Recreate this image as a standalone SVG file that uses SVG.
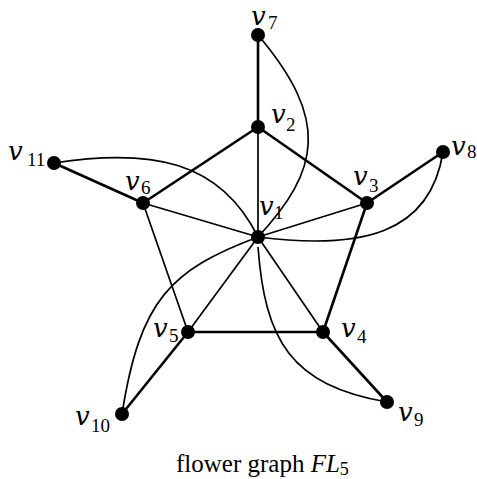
<svg xmlns="http://www.w3.org/2000/svg" width="477" height="479" viewBox="0 0 477 479">
<style>
.thick{stroke:#000;stroke-width:2.6;fill:none}
.thin{stroke:#000;stroke-width:1.7;fill:none}
.node{fill:#000}
.v{font-family:"DejaVu Serif",serif;font-style:italic;font-size:26px}
.s{font-family:"Liberation Serif",serif;font-size:19px}
.cap{font-family:"Liberation Serif",serif;font-size:25px}
</style>
<rect width="477" height="479" fill="#fff"/>
<g id="connectors">
<line class="thick" x1="258" y1="35" x2="258" y2="127"/>
<line class="thin" x1="258" y1="127" x2="258" y2="237"/>
<line class="thick" x1="258" y1="127" x2="143" y2="203"/>
<line class="thick" x1="258" y1="127" x2="367" y2="203"/>
<line class="thick" x1="54" y1="163" x2="143" y2="203"/>
<line class="thick" x1="443" y1="152" x2="367" y2="203"/>
<line class="thin" x1="143" y1="203" x2="258" y2="237"/>
<line class="thin" x1="367" y1="203" x2="258" y2="237"/>
<line class="thin" x1="143" y1="203" x2="188" y2="332"/>
<line class="thick" x1="367" y1="203" x2="323" y2="332"/>
<line class="thin" x1="258" y1="237" x2="188" y2="332"/>
<line class="thin" x1="258" y1="237" x2="323" y2="332"/>
<line class="thick" x1="188" y1="332" x2="323" y2="332"/>
<line class="thick" x1="188" y1="332" x2="122" y2="414"/>
<line class="thick" x1="323" y1="332" x2="387" y2="402"/>
<path class="thin" d="M258,35 C330,120 320,170 258,237"/>
<path class="thin" d="M54,163 C150,148 220,160 258,237"/>
<path class="thin" d="M443,152 C430,235 360,250 258,237"/>
<path class="thin" d="M122,414 C140,300 170,270 258,237"/>
<path class="thin" d="M258,247 C265,340 290,385 387,402"/>
</g>
<g id="v1"><circle class="node" cx="258" cy="237" r="7"/><text class="v" x="259" y="215">v</text><text class="s" x="274" y="219">1</text></g>
<g id="v2"><circle class="node" cx="258" cy="127" r="7"/><text class="v" x="271" y="123">v</text><text class="s" x="286" y="131">2</text></g>
<g id="v3"><circle class="node" cx="367" cy="203" r="7"/><text class="v" x="353" y="185">v</text><text class="s" x="369" y="192">3</text></g>
<g id="v4"><circle class="node" cx="323" cy="332" r="7"/><text class="v" x="341" y="337">v</text><text class="s" x="357" y="343">4</text></g>
<g id="v5"><circle class="node" cx="188" cy="332" r="7"/><text class="v" x="153" y="337">v</text><text class="s" x="169" y="342">5</text></g>
<g id="v6"><circle class="node" cx="143" cy="203" r="7"/><text class="v" x="125" y="190">v</text><text class="s" x="141" y="194">6</text></g>
<g id="v7"><circle class="node" cx="258" cy="35" r="7"/><text class="v" x="251" y="25">v</text><text class="s" x="268" y="29">7</text></g>
<g id="v8"><circle class="node" cx="443" cy="152" r="7"/><text class="v" x="451" y="155">v</text><text class="s" x="467" y="158">8</text></g>
<g id="v9"><circle class="node" cx="387" cy="402" r="7"/><text class="v" x="398" y="421">v</text><text class="s" x="414" y="426">9</text></g>
<g id="v10"><circle class="node" cx="122" cy="414" r="7"/><text class="v" x="75" y="425">v</text><text class="s" x="91" y="432">10</text></g>
<g id="v11"><circle class="node" cx="54" cy="163" r="7"/><text class="v" x="8" y="160">v</text><text class="s" x="27" y="166">11</text></g>
<g id="caption"><text class="cap" x="176" y="472">flower graph <tspan font-style="italic">FL</tspan><tspan font-size="18" dy="3">5</tspan></text></g>
</svg>
